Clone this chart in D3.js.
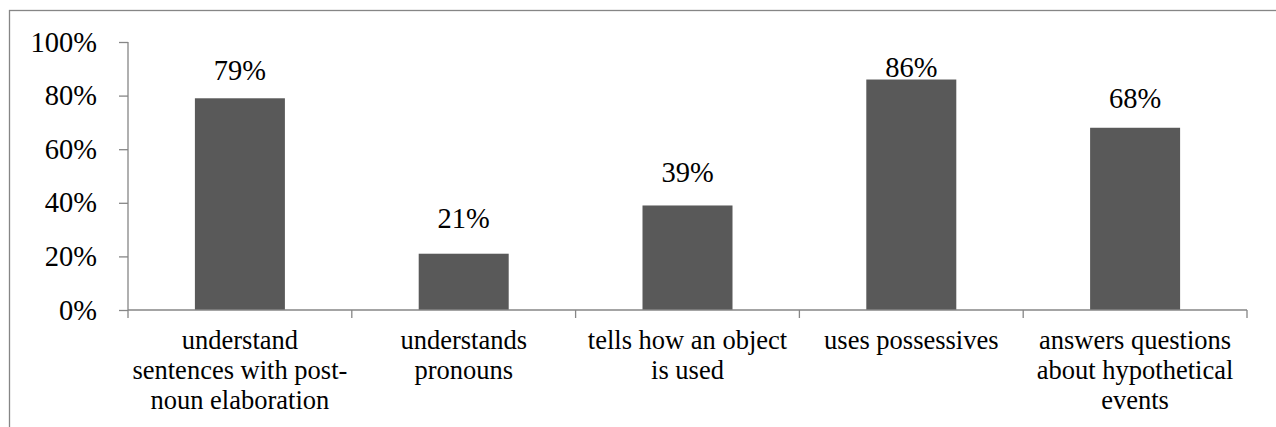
<!DOCTYPE html>
<html>
<head>
<meta charset="utf-8">
<script src="https://cdn.jsdelivr.net/npm/d3@7"></script>
<style>
  html, body { margin: 0; padding: 0; background: #fff; }
  svg { display: block; }
  svg text { font-family: "Liberation Serif", "Times New Roman", Tinos, "DejaVu Serif", serif; fill: #000; }
</style>
</head>
<body>
<svg id="chart" width="1276" height="427"></svg>
<script>
const categories = [
  ["understand", "sentences with post-", "noun elaboration"],
  ["understands", "pronouns"],
  ["tells how an object", "is used"],
  ["uses possessives"],
  ["answers questions", "about hypothetical", "events"]
];
const values = [79, 21, 39, 86, 68];
const yTicks = [0, 20, 40, 60, 80, 100];

const svg = d3.select("#chart");
const W = 1276, H = 427;
const m = { left: 128, top: 42, right: 29, bottom: 117 };
const pw = W - m.left - m.right;   // 1119
const ph = H - m.top - m.bottom;   // 268

// outer chart border (extends beyond the cropped picture)
svg.append("rect")
  .attr("x", 9.5).attr("y", 10.5)
  .attr("width", 1400).attr("height", 600)
  .attr("fill", "none").attr("stroke", "#868686").attr("stroke-width", 1.3);

const g = svg.append("g").attr("transform", `translate(${m.left},${m.top})`);

const x = d3.scaleBand().domain(d3.range(values.length)).range([0, pw]).paddingInner(0).paddingOuter(0);
const y = d3.scaleLinear().domain([0, 100]).range([ph, 0]);
const barW = 90;

// bars
g.selectAll("rect.bar").data(values).join("rect")
  .attr("class", "bar")
  .attr("x", (d, i) => x(i) + x.bandwidth() / 2 - barW / 2)
  .attr("y", d => y(d))
  .attr("width", barW)
  .attr("height", d => ph - y(d))
  .attr("fill", "#595959");

// y axis
const yAxis = d3.axisLeft(y).tickValues(yTicks).tickFormat(d => d + "%")
  .tickSize(9).tickPadding(22);
const ya = g.append("g").call(yAxis);
ya.attr("font-family", null).attr("font-size", null);
ya.select(".domain").attr("stroke", "#868686").attr("stroke-width", 1.3).attr("d", `M0,0V${ph}`);
ya.selectAll(".tick line").attr("stroke", "#868686").attr("stroke-width", 1.3);
ya.selectAll(".tick text")
  .style("font-size", "28.5px").attr("fill", "#000").attr("dy", "0.32em");

// x axis (category boundary ticks)
const xa = g.append("g").attr("transform", `translate(0,${ph})`);
xa.append("line").attr("x1", 0).attr("x2", pw).attr("y1", 0).attr("y2", 0)
  .attr("stroke", "#868686").attr("stroke-width", 1.3);
const bounds = d3.range(values.length + 1).map(i => i < values.length ? x(i) : pw);
xa.selectAll("line.tk").data(bounds).join("line").attr("class", "tk")
  .attr("x1", d => d).attr("x2", d => d).attr("y1", 0).attr("y2", 8)
  .attr("stroke", "#868686").attr("stroke-width", 1.3);

// category labels
const lab = xa.selectAll("text.cat").data(categories).join("text")
  .attr("class", "cat")
  .attr("text-anchor", "middle")
  .style("font-size", "26.5px");
lab.each(function (lines, i) {
  const t = d3.select(this);
  lines.forEach((ln, k) => {
    t.append("tspan").attr("x", x(i) + x.bandwidth() / 2).attr("y", 39 + k * 30).text(ln);
  });
});

// data labels
g.selectAll("text.val").data(values).join("text")
  .attr("class", "val")
  .attr("text-anchor", "middle")
  .style("font-size", "28.5px")
  .attr("x", (d, i) => x(i) + x.bandwidth() / 2)
  .attr("y", d => Math.max(y(d) - (29 - 0.14 * d), 35))
  .text(d => d + "%");
</script>
</body>
</html>
